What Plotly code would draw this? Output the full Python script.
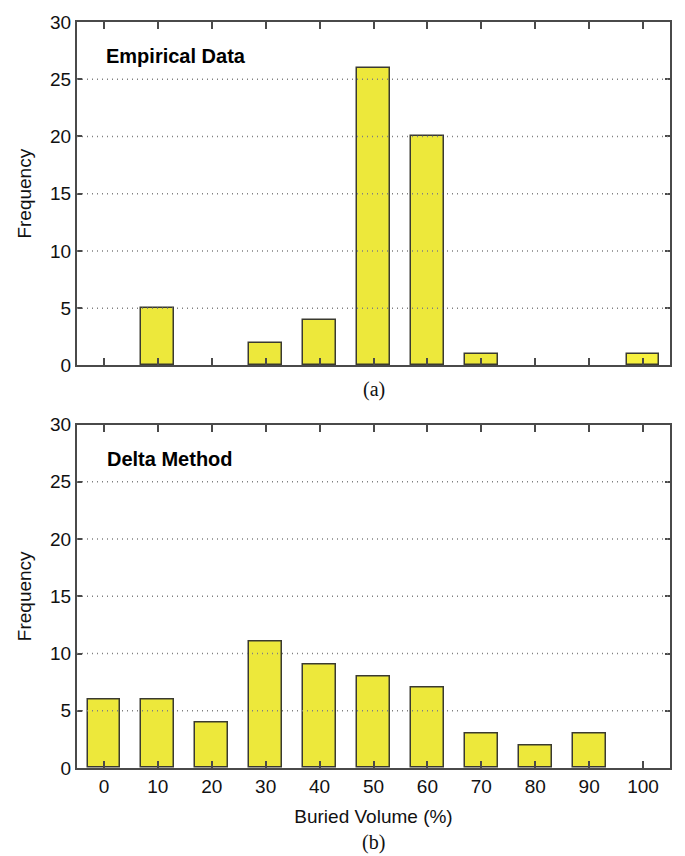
import plotly.graph_objects as go
from plotly.subplots import make_subplots

# Buried volume bins (%)
bins = [0, 10, 20, 30, 40, 50, 60, 70, 80, 90, 100]
tick_labels = [str(b) for b in bins]

# Frequency counts per bin
empirical_counts = [0, 5, 0, 2, 4, 26, 20, 1, 0, 0, 1]
delta_counts = [6, 6, 4, 11, 9, 8, 7, 3, 2, 3, 0]

y_ticks = [0, 5, 10, 15, 20, 25, 30]
grid_levels = [5, 10, 15, 20, 25]

BAR = "#ede83b"
BAR_BRIGHT = "#f7f13f"
EDGE = "#3a3a30"
AXIS = "#4a4a4a"
FONT = "Liberation Sans, Arial, sans-serif"
SERIF = "Liberation Serif, Times New Roman, serif"

empirical_colors = [BAR] * (len(bins) - 1) + [BAR_BRIGHT]


def visible(counts):
    # empty bins are left blank instead of drawing a flat outline
    return [c if c > 0 else None for c in counts]


fig = make_subplots(rows=2, cols=1, shared_xaxes=False, vertical_spacing=0.08)

fig.add_trace(go.Bar(x=bins, y=visible(empirical_counts), width=6.1,
                     marker=dict(color=empirical_colors, line=dict(color=EDGE, width=1.5)),
                     showlegend=False), row=1, col=1)
fig.add_trace(go.Bar(x=bins, y=visible(delta_counts), width=6.1,
                     marker=dict(color=BAR, line=dict(color=EDGE, width=1.5)),
                     showlegend=False), row=2, col=1)

xcommon = dict(range=[-5, 105], tickvals=bins, ticktext=tick_labels,
               ticks="inside", ticklen=7, tickwidth=1.5, tickcolor=AXIS,
               showline=True, linecolor=AXIS, linewidth=2, mirror="ticks",
               showgrid=False, zeroline=False,
               tickfont=dict(family=FONT, size=19, color="#111"))
ycommon = dict(range=[0, 30], tickvals=y_ticks,
               ticks="inside", ticklen=5, tickwidth=1.5, tickcolor=AXIS,
               showline=True, linecolor=AXIS, linewidth=2, mirror="ticks",
               showgrid=False, zeroline=False,
               tickfont=dict(family=FONT, size=19, color="#111"))

fig.update_xaxes(**xcommon)
fig.update_yaxes(**ycommon)
fig.update_xaxes(showticklabels=False, row=1, col=1)
fig.update_xaxes(title=dict(text="Buried Volume (%)", standoff=14,
                            font=dict(family=FONT, size=19, color="#111")), row=2, col=1)
fig.update_yaxes(title=dict(text="Frequency", standoff=13,
                            font=dict(family=FONT, size=19, color="#111")))

# Dotted horizontal grid drawn above the bars
for xr, yr in (("x domain", "y"), ("x2 domain", "y2")):
    for g in grid_levels:
        fig.add_shape(type="line", xref=xr, yref=yr, x0=0, x1=1, y0=g, y1=g,
                      line=dict(color="#808080", width=1.5, dash="1px,4px"),
                      layer="above")

fig.add_annotation(text="<b>Empirical Data</b>", xref="x domain", yref="y domain",
                   x=0.045, y=0.902, xanchor="left", yanchor="middle", showarrow=False,
                   font=dict(family=FONT, size=20, color="#000"))
fig.add_annotation(text="<b>Delta Method</b>", xref="x2 domain", yref="y2 domain",
                   x=0.047, y=0.899, xanchor="left", yanchor="middle", showarrow=False,
                   font=dict(family=FONT, size=20, color="#000"))
fig.add_annotation(text="(a)", xref="x domain", yref="paper",
                   x=0.5, y=(856 - 88 - 384) / 756, xanchor="center", yanchor="middle",
                   showarrow=False, font=dict(family=SERIF, size=20, color="#111"))
fig.add_annotation(text="(b)", xref="x2 domain", yref="paper",
                   x=0.5, y=(856 - 88 - 843) / 756, xanchor="center", yanchor="middle",
                   showarrow=False, font=dict(family=SERIF, size=20, color="#111"))

fig.update_layout(
    width=685, height=856,
    margin=dict(l=77, r=15, t=12, b=88),
    paper_bgcolor="white", plot_bgcolor="white",
    bargap=0,
    yaxis=dict(domain=[(768 - 360) / 756, 1.0]),
    yaxis2=dict(domain=[0.0, (768 - 420) / 756]),
)

fig.write_html("out.html")
